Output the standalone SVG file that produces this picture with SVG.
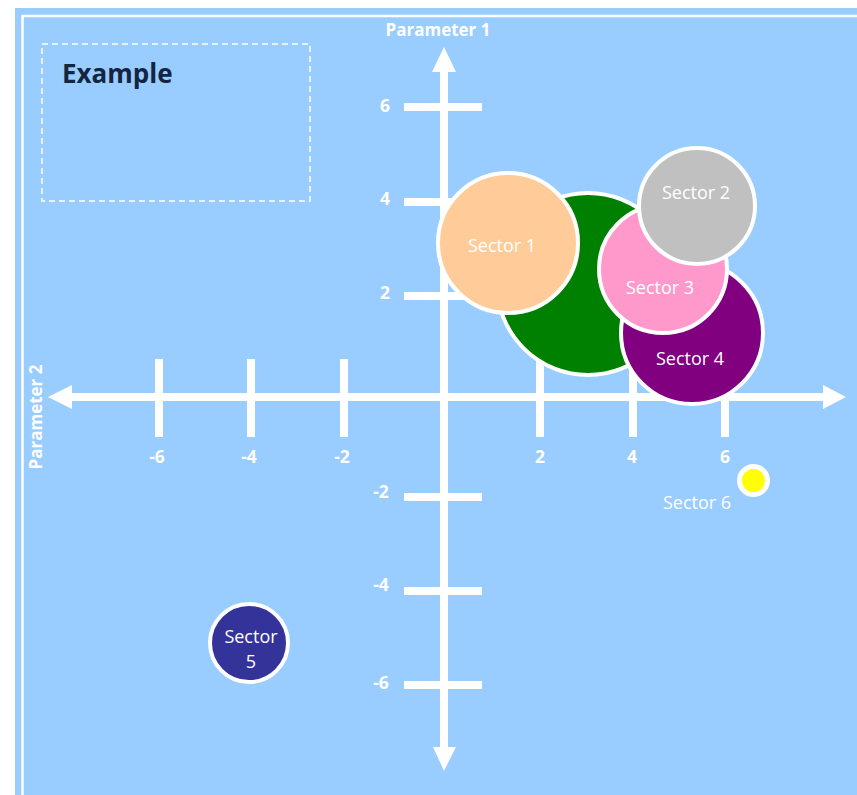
<svg xmlns="http://www.w3.org/2000/svg" width="857" height="795" viewBox="0 0 857 795">
  <style>
    .panel { fill: #99CCFF; }
    .axis { stroke: #FFFFFF; stroke-width: 8; fill: none; }
    .tick { stroke: #FFFFFF; stroke-width: 8; fill: none; }
    .head { fill: #FFFFFF; }
    .num { font-family: "Open Sans", "Liberation Sans", sans-serif; font-weight: bold; font-size: 17.5px; fill: #FFFFFF; text-anchor: middle; dominant-baseline: central; }
    .axtitle { font-family: "Open Sans", "Liberation Sans", sans-serif; font-weight: bold; font-size: 17px; fill: #FFFFFF; text-anchor: middle; dominant-baseline: central; }
    .bubble { stroke: #FFFFFF; stroke-width: 4; }
    .lbl { font-family: "Open Sans", "Liberation Sans", sans-serif; font-size: 18px; fill: #FFFFFF; text-anchor: middle; dominant-baseline: central; }
  </style>

  <!-- frame -->
  <rect x="0" y="0" width="857" height="795" fill="#FFFFFF"/>
  <rect class="panel" x="15" y="8" width="842" height="787"/>
  <rect x="22.5" y="16" width="850" height="800" fill="none" stroke="#FFFFFF" stroke-width="2.5"/>

  <!-- legend box -->
  <g id="example">
    <rect x="42" y="44" width="268" height="157" fill="none" stroke="#FFFFFF" stroke-width="1.5" stroke-dasharray="6,4"/>
    <text x="62" y="83" font-family="Open Sans, Liberation Sans, sans-serif" font-weight="bold" font-size="26" fill="#14263F">Example</text>
  </g>

  <!-- axes, ticks and their labels -->
  <g id="axes">
    <line class="axis" x1="444" y1="68" x2="444" y2="750"/>
    <polygon class="head" points="444,47 432,72 456,72"/>
    <polygon class="head" points="444,771 433,747 456,747"/>
    <line class="axis" x1="70" y1="397" x2="826" y2="397"/>
    <polygon class="head" points="48,397 72,385 72,409"/>
    <polygon class="head" points="846,397 823,385 823,409"/>

    <!-- ticks along Parameter 2 -->
    <line class="tick" x1="159" y1="359" x2="159" y2="437"/>
    <line class="tick" x1="251" y1="359" x2="251" y2="437"/>
    <line class="tick" x1="344" y1="359" x2="344" y2="437"/>
    <line class="tick" x1="540" y1="359" x2="540" y2="437"/>
    <line class="tick" x1="633" y1="359" x2="633" y2="437"/>
    <line class="tick" x1="725" y1="359" x2="725" y2="437"/>

    <!-- ticks along Parameter 1 -->
    <line class="tick" x1="404" y1="107" x2="482" y2="107"/>
    <line class="tick" x1="404" y1="202" x2="482" y2="202"/>
    <line class="tick" x1="404" y1="296" x2="482" y2="296"/>
    <line class="tick" x1="404" y1="497" x2="482" y2="497"/>
    <line class="tick" x1="404" y1="591" x2="482" y2="591"/>
    <line class="tick" x1="404" y1="685" x2="482" y2="685"/>

    <text class="num" x="157" y="456">-6</text>
    <text class="num" x="249" y="456">-4</text>
    <text class="num" x="342" y="456">-2</text>
    <text class="num" x="540" y="456">2</text>
    <text class="num" x="632" y="456">4</text>
    <text class="num" x="725" y="456">6</text>

    <text class="num" x="385" y="105">6</text>
    <text class="num" x="385" y="198">4</text>
    <text class="num" x="385" y="292">2</text>
    <text class="num" x="381" y="491">-2</text>
    <text class="num" x="381" y="584">-4</text>
    <text class="num" x="381" y="682">-6</text>

    <text class="axtitle" x="438" y="29">Parameter 1</text>
    <text class="axtitle" x="35" y="417" transform="rotate(-90 35 417)">Parameter 2</text>
  </g>

  <!-- sector bubbles -->
  <g id="sector-green">
    <circle class="bubble" cx="588" cy="284" r="91" fill="#008000"/>
  </g>
  <g id="sector-1">
    <circle class="bubble" cx="508" cy="243" r="70" fill="#FFCC99"/>
    <text class="lbl" x="502" y="245">Sector 1</text>
  </g>
  <g id="sector-4">
    <circle class="bubble" cx="692" cy="333" r="71" fill="#800080"/>
    <text class="lbl" x="690" y="358">Sector 4</text>
  </g>
  <g id="sector-3">
    <circle class="bubble" cx="663" cy="269" r="64" fill="#FF99CC"/>
    <text class="lbl" x="660" y="287">Sector 3</text>
  </g>
  <g id="sector-2">
    <circle class="bubble" cx="697" cy="206" r="58" fill="#C0C0C0"/>
    <text class="lbl" x="696" y="192">Sector 2</text>
  </g>
  <g id="sector-5">
    <circle class="bubble" cx="249" cy="643" r="39" fill="#333399"/>
    <text class="lbl" x="251" y="636">Sector</text>
    <text class="lbl" x="251" y="661">5</text>
  </g>
  <g id="sector-6">
    <circle cx="753.5" cy="480.5" r="14" fill="#FFFF00" stroke="#FFFFFF" stroke-width="5"/>
    <text class="lbl" x="697" y="502">Sector 6</text>
  </g>
</svg>
